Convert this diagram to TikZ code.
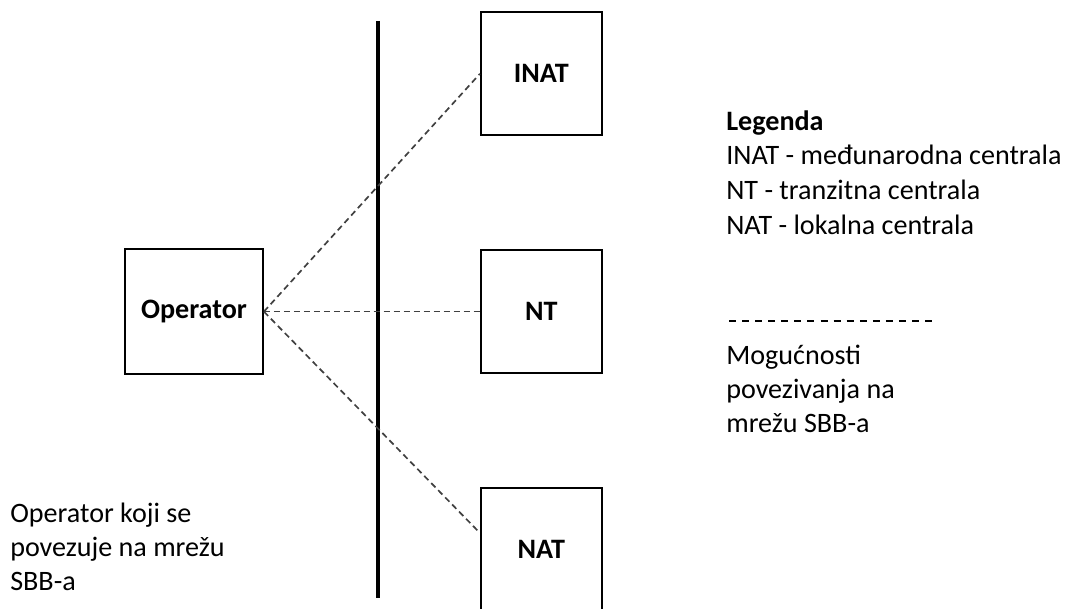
\documentclass[tikz,border=0pt]{standalone}
\usepackage{fontspec}
\setmainfont{Carlito}
\usetikzlibrary{positioning}

\begin{document}
\begin{tikzpicture}
                        \useasboundingbox (0,0) rectangle (26.7,15.2);
                        \tikzset{
                            box/.style={draw=black, line width=1.3pt, minimum width=3.025cm, minimum height=3.075cm, inner sep=0pt, font=\fontsize{20}{24}\selectfont\bfseries},
                            link/.style={draw=black!75, line width=1.2pt, dash pattern=on 4.3pt off 2.8pt},
                            txt/.style={anchor=base west, inner sep=0pt, font=\fontsize{20}{24}\selectfont}
                        }

                        % Operator
                        \node[box, minimum width=3.45cm, minimum height=3.125cm] (operator) at (4.85, 7.41) {Operator};

                        % centrale
                        \node[box, right=5.4cm of operator] (nt) {NT};
                        \node[box, above=2.825cm of nt] (inat) {INAT};
                        \node[box, below=2.825cm of nt] (nat) {NAT};

                        % granica mreze
                        \coordinate (granicagore) at (9.45, 14.675);
                        \coordinate (granicadolje) at (9.45, 0.25);
                        \draw[line width=2.4pt] (granicagore) -- (granicadolje);

                        % veze
                        \draw[link] (operator.east) -- (inat.west);
                        \draw[link] (operator.east) -- (nt.west);
                        \draw[link] (operator.east) -- (nat.165);

                        % legenda
                        \node[txt, font=\fontsize{20}{24}\selectfont\bfseries] (legenda) at (18.15, 11.95) {Legenda};
                        \node[txt] (leginat) at (18.15, 11.08) {INAT - međunarodna centrala};
                        \node[txt] (legnt) at (18.15, 10.21) {NT - tranzitna centrala};
                        \node[txt] (legnat) at (18.15, 9.34) {NAT - lokalna centrala};

                        \coordinate (crtalijevo) at (18.225, 7.175);
                        \coordinate (crtadesno) at (23.375, 7.175);
                        \draw[line width=1.3pt, dash pattern=on 5pt off 4.3pt] (crtalijevo) -- (crtadesno);

                        \node[txt] (mog1) at (18.15, 6.1) {Mogućnosti};
                        \node[txt] (mog2) at (18.15, 5.25) {povezivanja na};
                        \node[txt] (mog3) at (18.15, 4.4) {mrežu SBB-a};

                        % opis operatora
                        \node[txt] (opis1) at (0.25, 2.15) {Operator koji se};
                        \node[txt] (opis2) at (0.25, 1.3) {povezuje na mrežu};
                        \node[txt] (opis3) at (0.25, 0.45) {SBB-a};
\end{tikzpicture}
\end{document}
